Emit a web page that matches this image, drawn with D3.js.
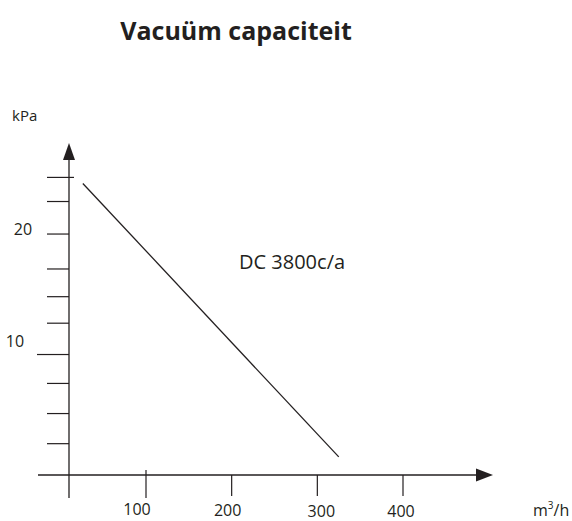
<!DOCTYPE html>
<html>
<head>
<meta charset="utf-8">
<script src="https://cdn.jsdelivr.net/npm/d3@7"></script>
<style>
body { margin: 0; background: #fff; }
svg text { font-family: "Open Sans", "Noto Sans", sans-serif; fill: #231f20; }
</style>
</head>
<body>
<div id="chart"></div>
<script>
// chart values
const title = "Vacuüm capaciteit";
const seriesName = "DC 3800c/a";
const xUnit = "m³/h";
const yUnit = "kPa";
const xTicks = [100, 200, 300, 400];
const yLabels = [10, 20];
// tick marks on the pressure axis, as drawn (not evenly spaced)
const yTicks = [2.6, 5.1, 7.6, 10, 12.6, 14.8, 17.1, 20, 22.7, 24.7];
// capacity curve: flow (m3/h) vs vacuum (kPa)
const flow = [18, 325];
const vacuum = [24.2, 1.5];

const width = 572, height = 521;

const svg = d3.select("#chart")
.append("svg")
.attr("width", width)
.attr("height", height);

// x scale: the drawing has its origin a bit closer to 100 than the rest of the spacing
const x = d3.scaleLinear()
.domain([0, 100, 400])
.range([69, 146, 403]);

const y = d3.scaleLinear()
.domain([0, 25])
.range([475, 173.8]);

const ink = "#231f20";

// title
svg.append("text")
.attr("x", 236)
.attr("y", 40)
.attr("text-anchor", "middle")
.style("font-size", "25px")
.style("font-weight", "bold")
.text(title);

// x axis line + arrow
svg.append("line")
.attr("x1", 38).attr("x2", 478)
.attr("y1", y(0)).attr("y2", y(0))
.attr("stroke", ink).attr("stroke-width", 1.3);
svg.append("path")
.attr("d", `M476,${y(0) - 6.5}L493,${y(0)}L476,${y(0) + 6.5}Z`)
.attr("fill", ink);

// y axis line + arrow
svg.append("line")
.attr("x1", x(0)).attr("x2", x(0))
.attr("y1", 498).attr("y2", 158)
.attr("stroke", ink).attr("stroke-width", 1.3);
svg.append("path")
.attr("d", `M${x(0) - 6},160L${x(0)},143L${x(0) + 6},160Z`)
.attr("fill", ink);

// y ticks
svg.append("g")
.selectAll("line")
.data(yTicks)
.join("line")
.attr("x1", d => d === 10 ? x(0) - 32 : x(0) - 22)
.attr("x2", (d, i) => i === yTicks.length - 1 ? x(0) + 5 : x(0))
.attr("y1", d => y(d))
.attr("y2", d => y(d))
.attr("stroke", ink)
.attr("stroke-width", 1.2);

svg.append("g")
.selectAll("text")
.data(yLabels)
.join("text")
.attr("x", d => d === 10 ? 15 : 23)
.attr("y", d => d === 10 ? y(d) - 8 : y(d) + 1)
.attr("text-anchor", "middle")
.style("font-size", "16px")
.text(d => d);

// x ticks
svg.append("g")
.selectAll("line")
.data(xTicks)
.join("line")
.attr("x1", d => x(d))
.attr("x2", d => x(d))
.attr("y1", (d, i) => i === 0 ? y(0) - 5 : y(0))
.attr("y2", (d, i) => i === 0 ? 498 : 496)
.attr("stroke", ink)
.attr("stroke-width", 1.2);

svg.append("g")
.selectAll("text")
.data(xTicks)
.join("text")
.attr("x", (d, i) => x(d) + [-9, -4, 4, -2][i])
.attr("y", (d, i) => [515, 516, 517, 517][i])
.attr("text-anchor", "middle")
.style("font-size", "16px")
.text(d => d);

// units
svg.append("text")
.attr("x", 12).attr("y", 121)
.style("font-size", "15px")
.text(yUnit);

const ux = svg.append("text")
.attr("x", 533).attr("y", 516)
.style("font-size", "16px");
ux.append("tspan").text("m");
ux.append("tspan").attr("dy", -7).style("font-size", "10px").text("3");
ux.append("tspan").attr("dy", 7).text("/h");

// capacity line
const pts = flow.map((f, i) => [f, vacuum[i]]);
svg.append("path")
.attr("d", d3.line().x(d => x(d[0])).y(d => y(d[1]))(pts))
.attr("fill", "none")
.attr("stroke", ink)
.attr("stroke-width", 1.3);

// series label
svg.append("text")
.attr("x", 239)
.attr("y", 269)
.style("font-size", "20px")
.text(seriesName);
</script>
</body>
</html>
